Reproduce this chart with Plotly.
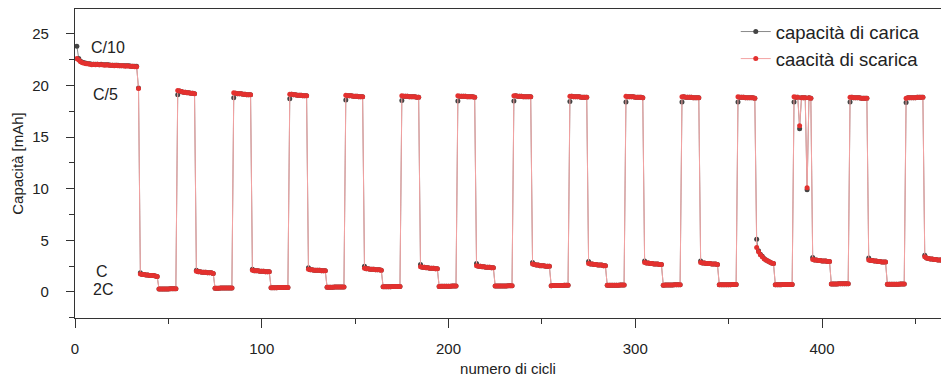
import plotly.graph_objects as go

# ---------------- data ----------------
# C/10 cycles 1-33
disch_C10 = [22.6, 22.45, 22.3, 22.2, 22.15, 22.1, 22.1, 22.05, 22.0, 22.05, 22.0, 22.05, 22.0,
             22.0, 22.0, 21.95, 22.0, 21.95, 21.95, 21.95, 21.9, 21.95, 21.9, 21.9, 21.9, 21.9,
             21.85, 21.9, 21.85, 21.85, 21.85, 21.8, 21.8]
charge_C10 = [23.8, 22.6, 22.35, 22.25, 22.2, 22.15, 22.1, 22.1, 22.05, 22.05, 22.05, 22.05, 22.0,
              22.05, 22.0, 22.0, 22.0, 22.0, 21.95, 21.95, 21.95, 21.95, 21.95, 21.9, 21.9, 21.9,
              21.9, 21.9, 21.9, 21.85, 21.85, 21.85, 21.85]
# single C/5 cycle (34)
disch_first_C5 = [19.7]
charge_first_C5 = [19.75]

# C-rate blocks (10 cycles each)
disch_C = [
    [1.75, 1.7, 1.7, 1.65, 1.65, 1.6, 1.6, 1.6, 1.55, 1.5],
    [2.0, 1.95, 1.95, 1.9, 1.9, 1.9, 1.85, 1.85, 1.85, 1.8],
    [2.1, 2.05, 2.05, 2.05, 2.0, 2.0, 2.0, 1.95, 1.95, 1.95],
    [2.2, 2.15, 2.15, 2.1, 2.1, 2.1, 2.1, 2.05, 2.05, 2.05],
    [2.3, 2.25, 2.25, 2.2, 2.2, 2.2, 2.15, 2.15, 2.15, 2.1],
    [2.45, 2.4, 2.4, 2.35, 2.35, 2.3, 2.3, 2.3, 2.25, 2.25],
    [2.55, 2.5, 2.5, 2.45, 2.45, 2.4, 2.4, 2.4, 2.35, 2.35],
    [2.7, 2.65, 2.6, 2.6, 2.55, 2.55, 2.55, 2.5, 2.5, 2.5],
    [2.75, 2.7, 2.7, 2.65, 2.65, 2.6, 2.6, 2.6, 2.55, 2.55],
    [2.85, 2.8, 2.8, 2.75, 2.75, 2.7, 2.7, 2.7, 2.65, 2.65],
    [2.85, 2.8, 2.8, 2.75, 2.75, 2.75, 2.7, 2.7, 2.7, 2.65],
    [4.3, 3.9, 3.6, 3.4, 3.2, 3.1, 3.0, 2.9, 2.8, 2.75],
    [3.15, 3.1, 3.1, 3.05, 3.05, 3.0, 3.0, 3.0, 2.95, 2.95],
    [3.1, 3.05, 3.05, 3.0, 3.0, 2.95, 2.95, 2.9, 2.9, 2.9],
    [3.4, 3.3, 3.25, 3.2, 3.2, 3.15, 3.15, 3.1, 3.1, 3.1],
]
charge_C_first = [1.85, 2.1, 2.2, 2.35, 2.5, 2.65, 2.75, 2.85, 2.95, 3.0, 3.0, 5.1, 3.35, 3.3, 3.55]

# 2C blocks
disch_2C = [
    [0.28, 0.3, 0.3, 0.3, 0.3, 0.3, 0.31, 0.31, 0.31, 0.32],
    [0.36, 0.37, 0.37, 0.38, 0.38, 0.38, 0.38, 0.39, 0.39, 0.39],
    [0.41, 0.42, 0.42, 0.42, 0.43, 0.43, 0.43, 0.43, 0.44, 0.44],
    [0.45, 0.46, 0.46, 0.46, 0.47, 0.47, 0.47, 0.47, 0.48, 0.48],
    [0.5, 0.5, 0.51, 0.51, 0.51, 0.52, 0.52, 0.52, 0.52, 0.53],
    [0.54, 0.55, 0.55, 0.55, 0.56, 0.56, 0.56, 0.57, 0.57, 0.57],
    [0.57, 0.58, 0.58, 0.58, 0.59, 0.59, 0.59, 0.6, 0.6, 0.6],
    [0.61, 0.62, 0.62, 0.62, 0.63, 0.63, 0.63, 0.64, 0.64, 0.64],
    [0.64, 0.65, 0.65, 0.65, 0.66, 0.66, 0.66, 0.67, 0.67, 0.67],
    [0.66, 0.67, 0.67, 0.68, 0.68, 0.68, 0.69, 0.69, 0.69, 0.7],
    [0.69, 0.7, 0.7, 0.7, 0.71, 0.71, 0.71, 0.72, 0.72, 0.72],
    [0.7, 0.71, 0.71, 0.71, 0.72, 0.72, 0.72, 0.73, 0.73, 0.73],
    [0.77, 0.78, 0.78, 0.78, 0.79, 0.79, 0.79, 0.8, 0.8, 0.8],
    [0.74, 0.75, 0.75, 0.75, 0.76, 0.76, 0.76, 0.77, 0.77, 0.77],
]

# C/5 blocks
disch_C5 = [
    [19.5, 19.45, 19.4, 19.35, 19.35, 19.3, 19.3, 19.25, 19.25, 19.2],
    [19.3, 19.25, 19.2, 19.2, 19.2, 19.15, 19.15, 19.1, 19.1, 19.1],
    [19.15, 19.15, 19.1, 19.1, 19.05, 19.05, 19.05, 19.0, 19.0, 19.0],
    [19.05, 19.0, 19.0, 19.0, 18.95, 18.95, 18.95, 18.9, 18.9, 18.9],
    [19.0, 18.95, 18.95, 18.95, 18.9, 18.9, 18.9, 18.9, 18.85, 18.85],
    [19.0, 18.95, 18.95, 18.95, 18.95, 18.9, 18.9, 18.9, 18.9, 18.85],
    [19.0, 19.0, 18.95, 18.95, 18.95, 18.9, 18.9, 18.9, 18.9, 18.9],
    [18.95, 18.95, 18.9, 18.9, 18.9, 18.9, 18.85, 18.85, 18.85, 18.85],
    [18.95, 18.9, 18.9, 18.9, 18.9, 18.85, 18.85, 18.85, 18.85, 18.8],
    [18.9, 18.9, 18.85, 18.85, 18.85, 18.85, 18.8, 18.8, 18.8, 18.8],
    [18.9, 18.85, 18.85, 18.85, 18.8, 18.8, 18.8, 18.8, 18.8, 18.75],
    [18.9, 18.85, 18.85, 16.1, 18.8, 18.8, 18.8, 10.1, 18.8, 18.75],
    [18.85, 18.85, 18.8, 18.8, 18.8, 18.8, 18.75, 18.75, 18.75, 18.75],
    [18.75, 18.8, 18.8, 18.8, 18.8, 18.8, 18.85, 18.85, 18.85, 18.85],
]
charge_C5 = [
    [19.1, 19.45, 19.4, 19.35, 19.35, 19.3, 19.3, 19.25, 19.25, 19.2],
    [18.8, 19.25, 19.2, 19.2, 19.2, 19.15, 19.15, 19.1, 19.1, 19.1],
    [18.7, 19.15, 19.1, 19.1, 19.05, 19.05, 19.05, 19.0, 19.0, 19.0],
    [18.6, 19.0, 19.0, 19.0, 18.95, 18.95, 18.95, 18.9, 18.9, 18.9],
    [18.55, 18.95, 18.95, 18.95, 18.9, 18.9, 18.9, 18.9, 18.85, 18.85],
    [18.5, 18.95, 18.95, 18.95, 18.95, 18.9, 18.9, 18.9, 18.9, 18.85],
    [18.5, 19.0, 18.95, 18.95, 18.95, 18.9, 18.9, 18.9, 18.9, 18.9],
    [18.45, 18.95, 18.9, 18.9, 18.9, 18.9, 18.85, 18.85, 18.85, 18.85],
    [18.4, 18.9, 18.9, 18.9, 18.9, 18.85, 18.85, 18.85, 18.85, 18.8],
    [18.4, 18.9, 18.85, 18.85, 18.85, 18.85, 18.8, 18.8, 18.8, 18.8],
    [18.4, 18.85, 18.85, 18.85, 18.8, 18.8, 18.8, 18.8, 18.8, 18.75],
    [18.4, 18.85, 18.85, 15.8, 18.8, 18.8, 18.8, 9.9, 18.8, 18.75],
    [18.4, 18.85, 18.8, 18.8, 18.8, 18.8, 18.75, 18.75, 18.75, 18.75],
    [18.35, 18.8, 18.8, 18.8, 18.8, 18.8, 18.85, 18.85, 18.85, 18.85],
]
charge_C11_rest = [4.0, 3.65, 3.45, 3.25, 3.1, 3.0, 2.9, 2.8, 2.75]

rate_labels = ["C/10", "C/5", "C", "2C"]
rate_label_x = [17.5, 16.3, 14.6, 14.9]
rate_label_y = [23.7, 19.1, 1.95, 0.2]

# ---------------- assemble series ----------------
discharge = list(disch_C10) + list(disch_first_C5)
charge = list(charge_C10) + list(charge_first_C5)
for k in range(len(disch_2C)):
    discharge += disch_C[k] + disch_2C[k] + disch_C5[k]
    if k == 11:
        cblk = [charge_C_first[k]] + charge_C11_rest
    else:
        cblk = [charge_C_first[k]] + disch_C[k][1:]
    charge += cblk + disch_2C[k] + charge_C5[k]
discharge += disch_C[14]
charge += [charge_C_first[14]] + disch_C[14][1:]
cycles = list(range(1, len(discharge) + 1))

fig = go.Figure()
fig.add_trace(go.Scatter(
    x=cycles, y=charge, mode="lines+markers", name="capacità di carica",
    line=dict(color="#8a8a8a", width=1),
    marker=dict(color="#444444", size=5),
))
fig.add_trace(go.Scatter(
    x=cycles, y=discharge, mode="lines+markers", name="caacità di scarica",
    line=dict(color="#f4a2a2", width=1),
    marker=dict(color="#e3312f", size=5),
))

for t, xx, yy in zip(rate_labels, rate_label_x, rate_label_y):
    fig.add_annotation(x=xx, y=yy, text=t, showarrow=False,
                       font=dict(size=16, color="#222"))

axis_common = dict(
    showline=True, linecolor="#333", linewidth=1.3, ticks="outside",
    tickcolor="#333", tickwidth=1.2, showgrid=False, zeroline=False,
    tickfont=dict(size=15, color="#222"),
)
fig.update_xaxes(
    range=[0, 463.7], tick0=0, dtick=100, ticklen=9, mirror=True,
    minor=dict(dtick=50, ticklen=5, ticks="outside", tickcolor="#333", tickwidth=1.2),
    title=dict(text="numero di cicli", font=dict(size=15, color="#222"), standoff=7),
    ticklabelstandoff=8,
    **axis_common,
)
fig.update_yaxes(
    range=[-2.52, 27.4], tick0=0, dtick=5, ticklen=8,
    minor=dict(dtick=2.5, ticklen=5, ticks="outside", tickcolor="#333", tickwidth=1.2),
    title=dict(text="Capacità [mAh]", font=dict(size=15, color="#222"), standoff=4),
    ticklabelstandoff=14,
    **axis_common,
)
fig.update_layout(
    width=941, height=378,
    margin=dict(l=75, r=0, t=9, b=60),
    plot_bgcolor="white", paper_bgcolor="white",
    font=dict(family="Liberation Sans, Arial, sans-serif", size=14, color="#222"),
    legend=dict(x=0.763, xanchor="left", y=0.987, yanchor="top",
                font=dict(size=18.5, color="#222"), bgcolor="rgba(0,0,0,0)",
                tracegroupgap=0),
)
fig.write_html("out.html")
